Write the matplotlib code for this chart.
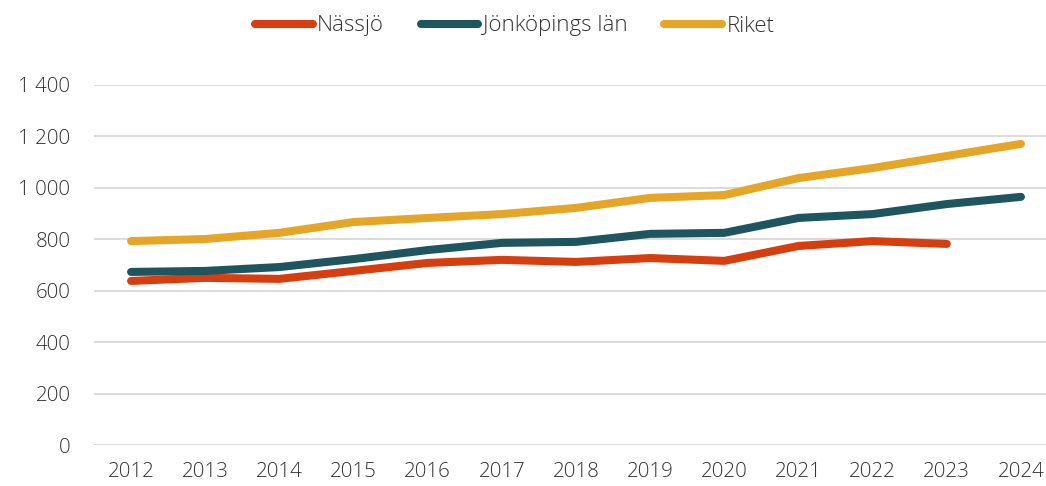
import matplotlib as mpl
mpl.use("Agg")
import matplotlib.pyplot as plt
from matplotlib.ticker import FuncFormatter

years = [str(y) for y in range(2012, 2025)]
nassjo = [638, 650, 646, 677, 708, 720, 712, 727, 716, 774, 793, 782]
jonkoping = [673, 677, 692, 723, 758, 786, 790, 821, 825, 883, 898, 937, 965]
riket = [793, 801, 825, 867, 883, 898, 922, 961, 972, 1038, 1077, 1124, 1171]

plt.rcParams['font.family'] = ['Open Sans', 'DejaVu Sans']
plt.rcParams['font.weight'] = 'light'
txt = "#333333"

fig = plt.figure(figsize=(10.46, 4.86), dpi=100)
ax = fig.add_axes([94/1046, 1 - 445/486, (1058 - 94)/1046, (445 - 85)/486])

lw = 5.8
ax.plot(range(len(nassjo)), nassjo, color="#D73E0F", lw=lw, solid_capstyle="round", label="Nässjö")
ax.plot(range(len(jonkoping)), jonkoping, color="#1F555E", lw=lw, solid_capstyle="round", label="Jönköpings län")
ax.plot(range(len(riket)), riket, color="#E5A628", lw=lw, solid_capstyle="round", label="Riket")

ax.set_xlim(-0.5, len(years) - 0.5)
ax.set_ylim(0, 1400)
ax.set_yticks(range(0, 1401, 200))
ax.yaxis.set_major_formatter(FuncFormatter(lambda v, p: "{:,}".format(int(v)).replace(",", " ")))
ax.set_xticks(range(len(years)))
ax.set_xticklabels(years)
ax.grid(axis="y", color="#d9d9d9", lw=1.3)
ax.set_axisbelow(True)
for s in ax.spines.values():
    s.set_visible(False)
ax.tick_params(length=0, labelsize=14.8, labelcolor=txt)
ax.tick_params(axis="y", pad=17)
ax.tick_params(axis="x", pad=12)

leg = fig.legend(loc="center", bbox_to_anchor=(0.492, 1 - 26/486), ncol=3, frameon=False,
                 fontsize=16, handlelength=2.6, handletextpad=0.2, columnspacing=1.65)
for t in leg.get_texts():
    t.set_color(txt)

fig.savefig("out.png", dpi=100)
